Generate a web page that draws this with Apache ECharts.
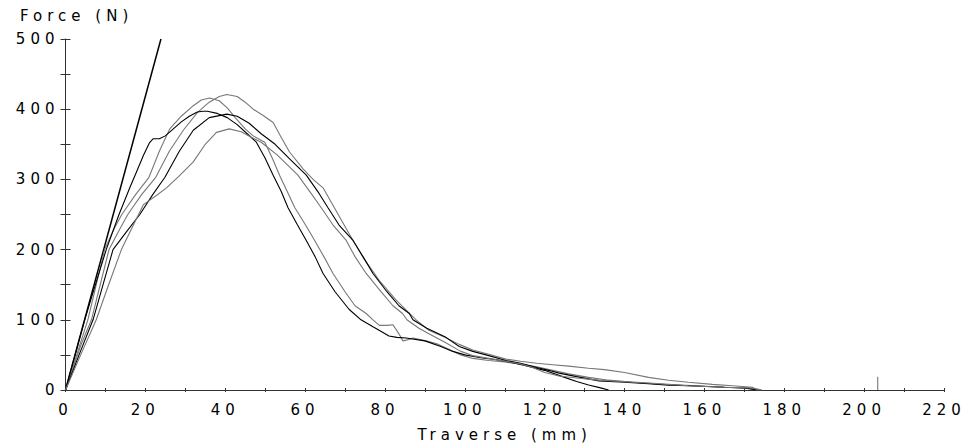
<!DOCTYPE html>
<html>
<head>
<meta charset="utf-8">
<script src="https://cdn.jsdelivr.net/npm/echarts@6/dist/echarts.min.js"></script>
<style>
  html, body { margin: 0; padding: 0; background: #fff; }
  #main { width: 974px; height: 447px; }
  #main text { letter-spacing: 5px; }
</style>
</head>
<body>
<div id="main"></div>
<script>
// X ticks (mm) and Y ticks (N)
const xTicks = [0, 20, 40, 60, 80, 100, 120, 140, 160, 180, 200, 220];
const yTicks = [0, 100, 200, 300, 400, 500];

// Reference stiffness line
const refLine = [[0, 0], [23.9, 500]];

// Test curves [traverse mm, force N]
const curve1 = [[0,0],[2,33],[4,66],[6.5,100],[8.7,150],[10.9,200],[13.2,225],[15.6,250],[19,278],[22.6,303],[26,340],[29.5,370],[33,395],[36,410],[38.5,418],[40.4,421],[43,418],[45,410],[47,400],[49.5,391],[52,381],[54,360],[56.1,339],[59.5,315],[62,300],[64.5,288],[67.8,255],[71.1,222],[74.5,189],[78.6,156],[82.8,128],[87.8,100],[91,85],[95,75],[98.6,65],[102,57],[106,51],[110.3,44],[114,41],[118,38],[122,36],[126,34],[131,31],[135,29],[140,25],[146,18],[151,14],[156,11],[162,8],[167,6],[172,4],[172.8,0]];
const curve2 = [[0,0],[2.8,50],[5.6,100],[7.7,150],[9.8,200],[12,228],[14.1,250],[17.5,278],[20.9,303],[23.5,340],[26.1,372],[29,390],[32,405],[34,413],[36.1,416],[38.5,412],[40.5,402],[42.5,388],[45,372],[47,362],[49.9,353],[51.8,330],[53.6,306],[55.5,283],[57.4,260],[60,236],[62.4,213],[64.7,190],[67,166],[70,140],[72.5,120],[75.3,109],[77,100],[78.6,92],[80.5,92],[82,93],[83.5,80],[84.5,70],[86,72],[87,74],[90.3,70],[93,66],[96,58],[99,50],[102,45],[106,42],[110,40],[114,37],[118,33],[122,28],[126,23],[131,18],[136,14],[142,11],[150,8],[158,6],[165,4],[172,2],[174,0]];
const curve3 = [[0,0],[2.4,50],[4.8,100],[7.5,150],[10.2,200],[13.4,250],[16.1,288],[17.8,311],[19.5,334],[21,352],[22,358],[23.5,358],[25,362],[27,372],[29,382],[31,390],[33,396],[34.4,397],[35.5,397],[38,394],[40.5,388],[43,378],[45.5,365],[47.8,353],[50,330],[52,306],[54,283],[55.7,260],[58,236],[60.3,213],[62.5,190],[64.5,166],[67.5,140],[71,115],[74,100],[77,90],[79.5,82],[81,77],[83,75],[85.3,74],[90,70],[94,62],[97,55],[100,50],[104,46],[108,43],[111,40],[115,35],[120,28],[125,18],[128,12],[131,7],[134,3],[136,0]];
const curve4 = [[0,0],[3.4,50],[6.9,100],[9.4,150],[11.9,200],[15.2,225],[18.6,250],[21.8,278],[24.9,303],[28.5,340],[32,370],[36,388],[40.4,393],[43,390],[46,380],[49,365],[52.5,350],[56,330],[60.3,306],[63.5,280],[65.7,260],[68.5,235],[72,213],[74.5,190],[77,166],[80.5,140],[83.5,120],[86.1,109],[87,100],[90.5,88],[95,76],[98.6,62],[102,55],[106,49],[110.3,42],[114,38],[118,32],[121,28],[123.6,24],[128,19],[133.6,13],[140,11],[146,9],[151,7],[156,6],[165,4],[170,3],[173,0]];
const curve5 = [[0,0],[3.8,50],[7.7,100],[10.8,150],[14,200],[17,235],[19.5,264],[22.5,276],[25.3,288],[28.5,305],[32,325],[35,350],[37.8,367],[41,372],[44,368],[46.5,360],[49,353],[53,335],[58.2,306],[61.5,280],[64,260],[67,235],[70.3,213],[72.5,190],[75.3,166],[79,140],[82,120],[84.4,109],[85.5,100],[88.5,88],[91,80],[95,68],[99,55],[102,49],[106,45],[110,41],[114,37],[117,32],[120,25],[123.6,20],[128,17],[133.6,14],[140,12],[146,10],[151,8],[156,6],[165,4],[172,3],[174.4,0]];

// Small marker at the end of the traverse
const endMarker = [[203.4, 0], [203.4, 19]];

const GRAY = '#777777';
const BLACK = '#000000';
const FONT = 'DejaVu Sans';

const chart = echarts.init(document.getElementById('main'), null, { renderer: 'svg' });

function lineSeries(data, color, width) {
  return {
    type: 'line', data: data, showSymbol: false, symbol: 'none',
    lineStyle: { color: color, width: width || 1.1 },
    xAxisIndex: 0, yAxisIndex: 0, animation: false, silent: true, z: 3
  };
}

const axisCommon = {
  type: 'value', splitLine: { show: false }
};

chart.setOption({
  backgroundColor: '#ffffff',
  animation: false,
  title: {
    text: 'Force (N)', left: 15, top: 3,
    textStyle: { fontFamily: FONT, fontSize: 15, fontWeight: 'normal', color: '#000' }
  },
  grid: { left: 65.5, right: 30, top: 39, bottom: 52.5, containLabel: false },
  xAxis: [
    Object.assign({}, axisCommon, {
      min: 0, max: 220, interval: 10, position: 'bottom',
      name: 'Traverse (mm)', nameLocation: 'middle', nameGap: 37,
      nameTextStyle: { fontFamily: FONT, fontSize: 15, color: '#000' },
      axisLine: { show: true, lineStyle: { color: '#333', width: 1 } },
      axisTick: { show: true, inside: false, length: 2, lineStyle: { color: '#333' } },
      axisLabel: {
        fontFamily: FONT, fontSize: 15, color: '#000', margin: 12,
        formatter: function (v) { return xTicks.indexOf(v) >= 0 ? String(v) : ''; }
      }
    }),
    Object.assign({}, axisCommon, {
      min: 0, max: 220, interval: 10, position: 'bottom',
      axisLine: { show: false },
      axisTick: { show: true, inside: true, length: 2, lineStyle: { color: '#333' } },
      axisLabel: { show: false }
    })
  ],
  yAxis: [
    Object.assign({}, axisCommon, {
      min: 0, max: 500, interval: 50, position: 'left',
      axisLine: { show: true, lineStyle: { color: '#333', width: 1 } },
      axisTick: { show: true, inside: false, length: 5, lineStyle: { color: '#333' } },
      axisLabel: {
        fontFamily: FONT, fontSize: 15, color: '#000', margin: 6,
        formatter: function (v) { return yTicks.indexOf(v) >= 0 ? String(v) : ''; }
      }
    }),
    Object.assign({}, axisCommon, {
      min: 0, max: 500, interval: 50, position: 'left', offset: 0,
      axisLine: { show: false },
      axisTick: { show: true, inside: true, length: 5, lineStyle: { color: '#333' } },
      axisLabel: { show: false }
    })
  ],
  series: [
    lineSeries(refLine, BLACK, 1.5),
    lineSeries(curve1, GRAY),
    lineSeries(curve2, GRAY),
    lineSeries(curve3, BLACK),
    lineSeries(curve4, BLACK),
    lineSeries(curve5, GRAY),
    lineSeries(endMarker, GRAY)
  ]
});
</script>
</body>
</html>
